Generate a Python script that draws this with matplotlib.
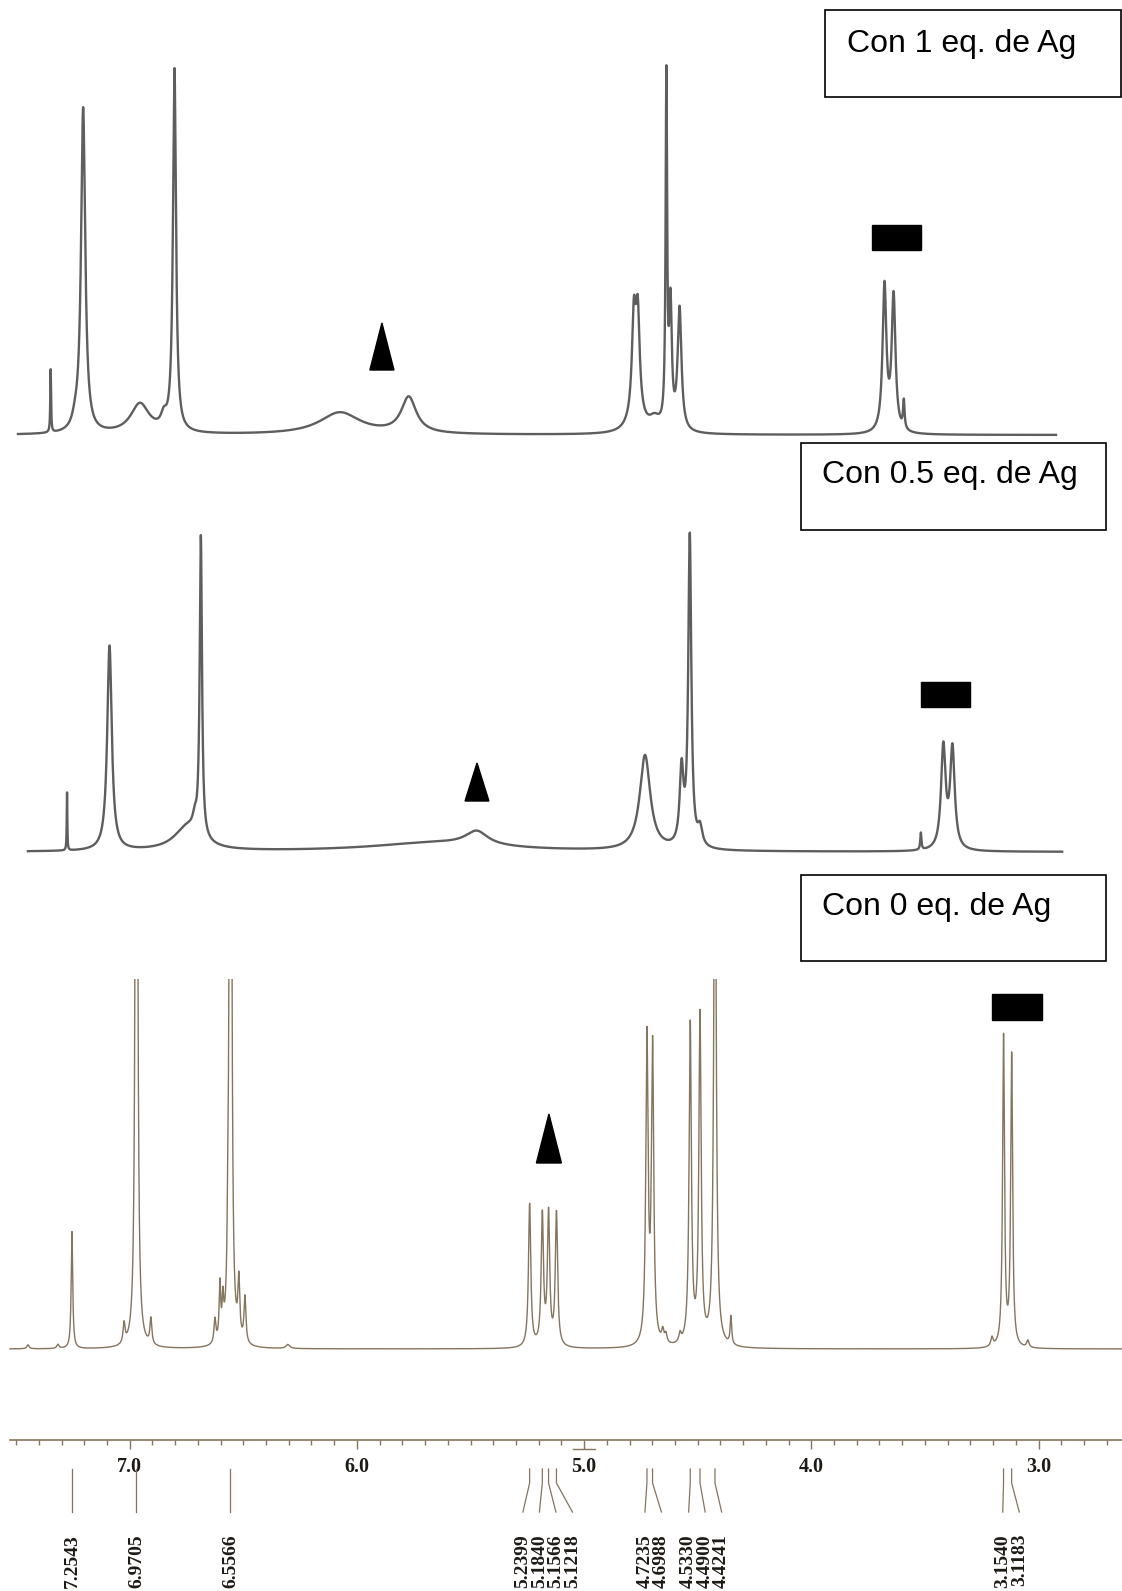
import numpy as np
import matplotlib.pyplot as plt
from matplotlib.patches import Rectangle, Polygon
from matplotlib.ticker import FixedLocator, MultipleLocator, FormatStrFormatter

W, H = 1122, 1591
PPM_LEFT = 7.571          # chemical shift at the left edge of the page
PX_PER_PPM = 227.2
PPM_RIGHT = PPM_LEFT - W / PX_PER_PPM

# --- spectrum "Con 1 eq. de Ag" (shift ppm, height, half width ppm)
eq1_shift = [7.348, 7.240, 7.205, 6.955, 6.850, 6.803, 6.075, 5.772,
             4.781, 4.764, 4.772, 4.690, 4.638, 4.620, 4.580, 3.678, 3.638, 3.593]
eq1_height = [63, 8, 325, 30, 12, 362, 22, 36,
              95, 95, 18, 12, 345, 120, 122, 146, 135, 28]
eq1_width = [0.002, 0.015, 0.011, 0.05, 0.015, 0.008, 0.11, 0.04,
             0.010, 0.010, 0.035, 0.03, 0.004, 0.007, 0.010, 0.010, 0.010, 0.004]

# --- spectrum "Con 0.5 eq. de Ag"
eq05_shift = [7.276, 7.089, 6.745, 6.714, 6.687, 5.473, 5.650,
              4.732, 4.571, 4.535, 4.490, 3.518, 3.419, 3.379]
eq05_height = [58, 205, 24, 12, 300, 14, 9,
               95, 75, 310, 18, 17, 102, 100]
eq05_width = [0.0015, 0.012, 0.07, 0.01, 0.006, 0.06, 0.35,
              0.028, 0.010, 0.008, 0.012, 0.003, 0.012, 0.012]

# --- spectrum "Con 0 eq. de Ag"
eq0_shift = [7.448, 7.316, 7.2543, 7.025, 6.9705, 6.907, 6.625, 6.603, 6.590,
             6.569, 6.5566, 6.520, 6.493, 6.304, 5.2399, 5.1840, 5.1566, 5.1218,
             4.7235, 4.6988, 4.654, 4.640, 4.578, 4.5330, 4.4900, 4.4241, 4.354,
             3.205, 3.1540, 3.1183, 3.047]
eq0_height = [4, 4, 117, 20, 1500, 26, 24, 55, 35,
              40, 1500, 58, 46, 4, 143, 130, 131, 133,
              305, 295, 12, 9, 9, 320, 328, 600, 28,
              9, 310, 291, 7]
eq0_width = [0.006, 0.006, 0.004, 0.005, 0.004, 0.005, 0.005, 0.004, 0.004,
             0.003, 0.004, 0.005, 0.005, 0.01, 0.006, 0.006, 0.006, 0.006,
             0.006, 0.006, 0.006, 0.006, 0.006, 0.006, 0.006, 0.006, 0.004,
             0.006, 0.005, 0.005, 0.006]

# peak picking labels of the bottom spectrum
label_groups = [[7.2543], [6.9705], [6.5566],
                [5.2399, 5.1840, 5.1566, 5.1218],
                [4.7235, 4.6988], [4.5330, 4.4900, 4.4241],
                [3.1540, 3.1183]]
axis_ticks = [7.0, 6.0, 5.0, 4.0, 3.0]
titles = ["Con 1 eq. de Ag", "Con 0.5 eq. de Ag", "Con 0 eq. de Ag"]

BROWN = '#85745e'
GREY = '#5e5e5e'


def lorentz(x, shifts, heights, widths):
    y = np.zeros_like(x)
    for c, h, w in zip(shifts, heights, widths):
        y += h / (1 + ((x - c) / w) ** 2)
    return y


fig = plt.figure(figsize=(W / 100, H / 100), dpi=100)


def add_ax(top, bottom, left=0):
    ax = fig.add_axes([left / W, 1 - bottom / H, (W - left) / W, (bottom - top) / H])
    ax.set_xlim(PPM_LEFT - left / PX_PER_PPM, PPM_RIGHT)
    ax.patch.set_alpha(0)
    return ax


# top spectrum
ax1 = add_ax(0, 470)
ax1.set_ylim(-35, 435)
ax1.axis('off')
x1 = np.linspace(7.492, 2.923, 30000)
ax1.plot(x1, lorentz(x1, eq1_shift, eq1_height, eq1_width), color=GREY, lw=1.7)
ax1.add_patch(Polygon([[5.943, 65], [5.837, 65], [5.890, 112]], closed=True, color='black'))
ax1.add_patch(Rectangle((3.517, 185), 0.216, 25, color='black'))

# middle spectrum
ax2 = add_ax(470, 880)
ax2.set_ylim(-28, 382)
ax2.axis('off')
x2 = np.linspace(7.448, 2.896, 30000)
ax2.plot(x2, lorentz(x2, eq05_shift, eq05_height, eq05_width), color=GREY, lw=1.7)
ax2.add_patch(Polygon([[5.524, 51], [5.419, 51], [5.4715, 89]], closed=True, color='black'))
ax2.add_patch(Rectangle((3.302, 145), 0.216, 25, color='black'))

# bottom spectrum
ax3 = add_ax(979, 1400)
ax3.set_ylim(-51, 370)
ax3.axis('off')
x3 = np.linspace(7.527, PPM_RIGHT, 40000)
ax3.plot(x3, lorentz(x3, eq0_shift, eq0_height, eq0_width), color=BROWN, lw=1.0)
ax3.add_patch(Polygon([[5.210, 186], [5.100, 186], [5.155, 235]], closed=True, color='black'))
ax3.add_patch(Rectangle((2.985, 329), 0.220, 26, color='black'))

# ppm scale
ax4 = add_ax(1410, 1440, left=10)
ax4.set_ylim(0, 1)
for s in ['top', 'left', 'right']:
    ax4.spines[s].set_visible(False)
ax4.spines['bottom'].set_color(BROWN)
ax4.spines['bottom'].set_linewidth(1.2)
ax4.set_yticks([])
ax4.xaxis.set_major_locator(FixedLocator(axis_ticks))
ax4.xaxis.set_minor_locator(MultipleLocator(0.1))
ax4.xaxis.set_major_formatter(FormatStrFormatter('%.1f'))
ax4.tick_params(axis='x', which='major', length=6.5, width=1, color=BROWN, pad=6,
                labelsize=14.5, labelcolor='#1e1a16')
ax4.tick_params(axis='x', which='minor', length=3.5, width=1, color=BROWN)
for lab in ax4.get_xticklabels():
    lab.set_fontfamily('Liberation Serif')
    lab.set_fontweight('bold')

# peak labels
ax5 = add_ax(1440, H)
ax5.set_ylim(H, 1440)
ax5.axis('off')
ax5.plot([5.05, 4.95], [1449, 1449], color=BROWN, lw=1)
step = 16.5 / PX_PER_PPM
for grp in label_groups:
    n = len(grp)
    if n == 1:
        pos = [grp[0]]
    else:
        mid = np.mean(grp) - 0.015
        pos = [mid + ((n - 1) / 2 - i) * step for i in range(n)]
    for p, lx in zip(grp, pos):
        if n == 1:
            ax5.plot([p, p], [1469, 1512], color=BROWN, lw=0.9)
        else:
            ax5.plot([p, p, lx], [1469, 1483, 1512], color=BROWN, lw=0.9)
        ax5.text(lx, 1534, f"{p:.4f}", rotation=90, ha='center', va='top',
                 fontsize=14, fontweight='bold', family='Liberation Serif',
                 color='#1e1a16')

# boxed captions
boxes = [(825, 10, 296, 87, 847, 52), (801, 443, 305, 87, 822, 483),
         (801, 875, 305, 86, 822, 915)]
for title, (bx, by, bw, bh, tx, ty) in zip(titles, boxes):
    fig.add_artist(Rectangle((bx / W, 1 - (by + bh) / H), bw / W, bh / H,
                             transform=fig.transFigure, fill=False,
                             edgecolor='black', lw=1.2))
    fig.text(tx / W, 1 - ty / H, title, fontsize=23, family='Liberation Sans',
             va='baseline', ha='left')

fig.savefig('out.png', dpi=100)
